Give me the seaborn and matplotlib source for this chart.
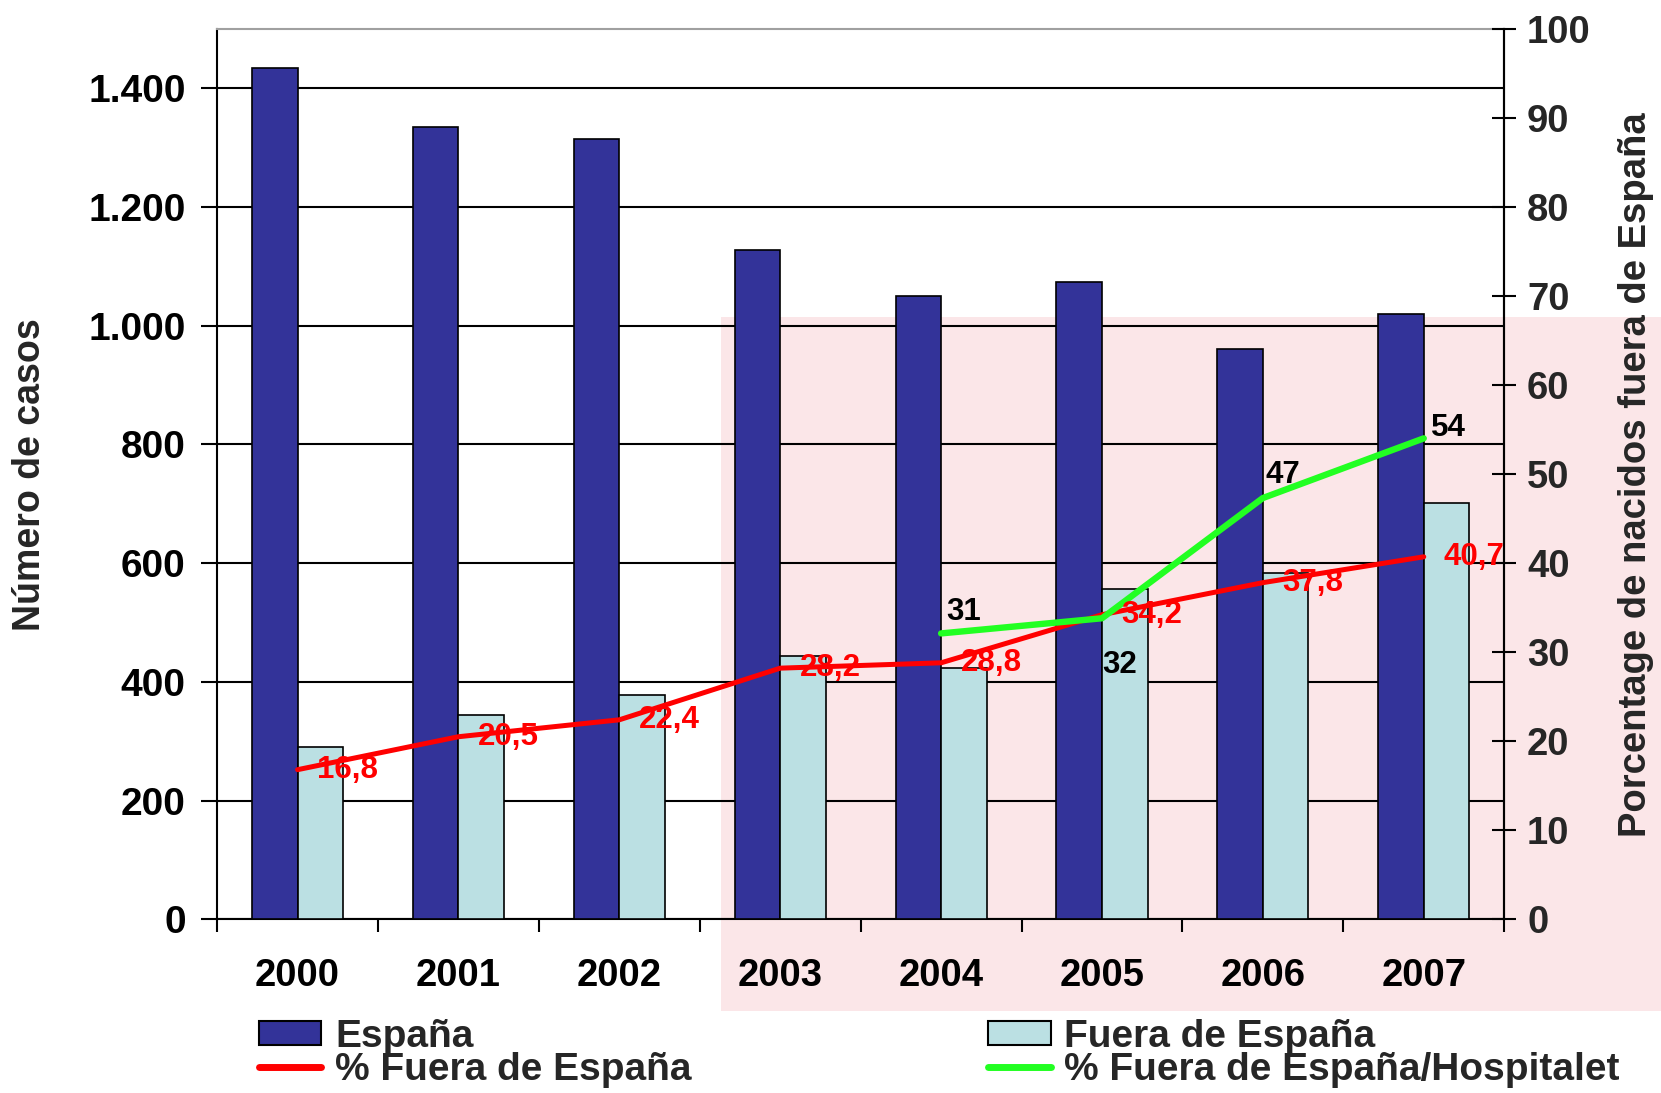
import numpy as np
import pandas as pd
import matplotlib
matplotlib.use("Agg")
import matplotlib.pyplot as plt
import seaborn as sns
from matplotlib.patches import Patch, Rectangle
from matplotlib.lines import Line2D

# ---------------- data ----------------
years = ["2000", "2001", "2002", "2003", "2004", "2005", "2006", "2007"]
espana = [1434, 1334, 1314, 1127, 1050, 1074, 961, 1020]
fuera = [291, 344, 378, 444, 424, 556, 583, 701]
pct_fuera = [16.8, 20.5, 22.4, 28.2, 28.8, 34.2, 37.8, 40.7]
hosp_years = ["2004", "2005", "2006", "2007"]
pct_hosp = [32.1, 33.8, 47.3, 54.0]
pct_hosp_labels = ["31", "32", "47", "54"]

left_ticks = [0, 200, 400, 600, 800, 1000, 1200, 1400]
left_tick_labels = ["0", "200", "400", "600", "800", "1.000", "1.200", "1.400"]
right_ticks = [0, 10, 20, 30, 40, 50, 60, 70, 80, 90, 100]

series_names = ["España", "Fuera de España"]
line_names = ["% Fuera de España", "% Fuera de España/Hospitalet"]

# ---------------- style ----------------
C_ESP = "#333399"
C_FUE = "#BBE0E3"
C_RED = "#FF0000"
C_GRN = "#22FF22"

sns.set_theme(style="ticks")
plt.rcParams['font.family'] = ['Liberation Sans', 'DejaVu Sans']
plt.rcParams['font.weight'] = 'bold'

fig = plt.figure(figsize=(16.61, 10.93), dpi=100)
fig.patch.set_facecolor("white")

# faint pink watermark area from the background of the original
fig.patches.append(Rectangle((0.434, 0.0746), 0.566, 0.635, transform=fig.transFigure,
                             facecolor="#FBE6E8", edgecolor="none", zorder=-5))

ax = fig.add_axes([0.1307, 0.1589, 0.9056 - 0.1307, 0.9738 - 0.1589])
ax.set_facecolor("none")

df = pd.DataFrame({
    "Año": years * 2,
    "Casos": espana + fuera,
    "Origen": [series_names[0]] * len(years) + [series_names[1]] * len(years),
})

sns.barplot(data=df, x="Año", y="Casos", hue="Origen", order=years,
            hue_order=series_names,
            palette={series_names[0]: C_ESP, series_names[1]: C_FUE},
            width=0.566, saturation=1, edgecolor="black", linewidth=1.2,
            legend=False, ax=ax, zorder=3)

ax.set_xlim(-0.5, len(years) - 0.5)
ax.set_ylim(0, 1500)
ax.set_yticks(left_ticks, left_tick_labels)
ax.set_xticks(np.arange(len(years)), years)
ax.set_xticks(np.arange(-0.5, len(years), 1.0), minor=True)
ax.set_xlabel("")
ax.set_ylabel("")

ax.yaxis.grid(True, color="black", lw=1.5)
ax.set_axisbelow(True)

ax.tick_params(axis="x", which="major", length=0, pad=28, labelsize=27.5, bottom=True)
ax.tick_params(axis="x", which="minor", length=9.5, width=1.5, direction="out",
               color="black", bottom=True)
ax.tick_params(axis="y", which="major", length=11.5, width=1.5, direction="out",
               color="black", pad=11, labelsize=28, left=True)
for lab in ax.get_xticklabels() + ax.get_yticklabels():
    lab.set_fontweight("bold")
    lab.set_color("black")

for s in ["left", "bottom", "right"]:
    ax.spines[s].set_color("black")
    ax.spines[s].set_linewidth(1.5)
ax.spines["top"].set_color("#A0A0A0")
ax.spines["top"].set_linewidth(1.5)

# ---------------- right axis: lines ----------------
ax2 = ax.twinx()
ax2.set_ylim(0, 100)
ax2.set_yticks(right_ticks, [str(t) for t in right_ticks])
ax2.tick_params(axis="y", direction="inout", length=17, width=1.5, color="black",
                pad=8, labelsize=27.5, right=True)
for lab in ax2.get_yticklabels():
    lab.set_fontweight("bold")
ax2.spines["right"].set_color("black")
ax2.spines["right"].set_linewidth(1.5)
ax2.spines["top"].set_visible(False)
ax2.spines["left"].set_visible(False)
ax2.spines["bottom"].set_visible(False)

x_all = np.arange(len(years))
x_hosp = np.array([years.index(y) for y in hosp_years])

sns.lineplot(x=x_all, y=pct_fuera, ax=ax2, color=C_RED, lw=3.6, zorder=4)
sns.lineplot(x=x_hosp, y=pct_hosp, ax=ax2, color=C_GRN, lw=4.6, zorder=5)
ax2.set_ylabel("")
ax2.set_xlim(-0.5, len(years) - 0.5)

for xi, v in zip(x_all, pct_fuera):
    ax2.annotate(f"{v:.1f}".replace(".", ","), (xi, v), xytext=(14, 0),
                 textcoords="offset points", ha="left", va="center",
                 color=C_RED, fontsize=22.5, fontweight="bold", zorder=6)

hosp_offsets = [(4, 10), (0, -23), (2, 11), (5, 2)]
hosp_va = ["baseline", "top", "baseline", "baseline"]
for xi, v, lab, off, va in zip(x_hosp, pct_hosp, pct_hosp_labels, hosp_offsets, hosp_va):
    ax2.annotate(lab, (xi, v), xytext=off, textcoords="offset points",
                 ha="left", va=va, color="black", fontsize=22.5,
                 fontweight="bold", zorder=6)

# ---------------- axis titles ----------------
fig.text(0.018, 0.566, "Número de casos", rotation=90, ha="center", va="center",
         fontsize=27, fontweight="bold")
fig.text(0.985, 0.566, "Porcentage de nacidos fuera de España", rotation=90,
         ha="center", va="center", fontsize=27.5, fontweight="bold")

# ---------------- legend ----------------
leg_kw = dict(frameon=False, handlelength=1.6, handleheight=0.6,
              handletextpad=0.35, labelspacing=-0.08, borderpad=0, borderaxespad=0,
              loc="upper left", prop={"weight": "bold", "size": 28})
h1 = [Patch(facecolor=C_ESP, edgecolor="black", lw=1.5),
      Line2D([], [], color=C_RED, lw=5)]
h2 = [Patch(facecolor=C_FUE, edgecolor="black", lw=1.5),
      Line2D([], [], color=C_GRN, lw=5)]
fig.legend(h1, [series_names[0], line_names[0]], bbox_to_anchor=(0.156, 0.068), **leg_kw)
fig.legend(h2, [series_names[1], line_names[1]], bbox_to_anchor=(0.595, 0.068), **leg_kw)

fig.savefig("out.png", dpi=100)
